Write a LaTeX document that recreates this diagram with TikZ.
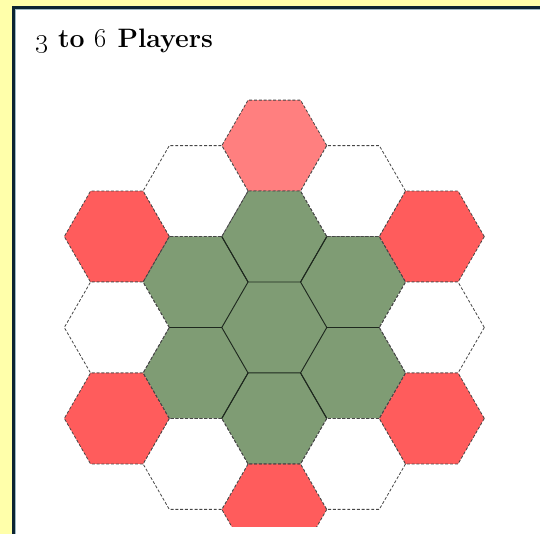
\documentclass[tikz,border=0pt]{standalone}
\usetikzlibrary{calc}
\definecolor{frameyellow}{RGB}{255,255,170}
\definecolor{framedark}{RGB}{12,36,50}
\definecolor{framelight}{RGB}{160,185,195}
\definecolor{hexgreen}{RGB}{127,156,116}
\definecolor{hexred}{RGB}{255,92,92}
\definecolor{hexpink}{RGB}{255,127,127}
\definecolor{hexdash}{RGB}{70,70,70}
\definecolor{hexline}{RGB}{30,40,30}
\newcommand\titlefont{\fontsize{20}{24}\selectfont\bfseries}
\tikzset{
  hexborder/.style={draw=hexdash, line width=0.6pt, dash pattern=on 2.2pt off 1.4pt},
  greenhex/.style={fill=hexgreen},
  redhex/.style={fill=hexred, hexborder},
  pinkhex/.style={fill=hexpink, hexborder},
  whitehex/.style={fill=white, hexborder},
  inneredge/.style={draw=hexline, line width=0.7pt, line join=round},
  titletext/.style={anchor=base west, inner sep=0pt}
}
\begin{document}
\begin{tikzpicture}[x=0.75pt, y=-0.75pt]
\useasboundingbox (0,0) rectangle (540,534);
% frame
\fill[frameyellow] (0,0) rectangle (540,534);
\fill[white] (13.5,7.5) rectangle (545,540);
\draw[framelight, line width=0.75pt] (15.8,540) -- (15.8,9.8) -- (545,9.8);
\draw[framedark, line width=2.25pt] (13.5,540) -- (13.5,7.5) -- (545,7.5);
% title
\node[titletext] (title) at (35,48) {\titlefont \oldstylenums{3} to \oldstylenums{6} Players};
% board
\begin{scope}
\clip (16,10) rectangle (540,527);
\foreach \c/\k/\kind in {
  0/-4/pinkhex, 0/-2/greenhex, 0/0/greenhex, 0/2/greenhex, 0/4/redhex,
  -1/-3/whitehex, -1/-1/greenhex, -1/1/greenhex, -1/3/whitehex,
  1/-3/whitehex, 1/-1/greenhex, 1/1/greenhex, 1/3/whitehex,
  -2/-2/redhex, -2/0/whitehex, -2/2/redhex,
  2/-2/redhex, 2/0/whitehex, 2/2/redhex}
{
  \path[\kind, shift={({274.3+78.75*\c},{327.5+45.47*\k})}]
    (0:52.5) -- (60:52.5) -- (120:52.5) -- (180:52.5) -- (240:52.5) -- (300:52.5) -- cycle;
}
% solid edges inside the green cluster
\foreach \t in {30,90,150,210,270,330}
{
  \draw[inneredge, shift={(274.3,327.5)}, shift={(\t:90.93)}]
    (\t+90:52.5) -- (\t+150:52.5) -- (\t+210:52.5) -- (\t+270:52.5);
}
% dashed outer edges of the green cluster
\foreach \t in {30,90,150,210,270,330}
{
  \draw[hexborder, shift={(274.3,327.5)}, shift={(\t:90.93)}]
    (\t-90:52.5) -- (\t-30:52.5) -- (\t+30:52.5) -- (\t+90:52.5);
}
\end{scope}
\end{tikzpicture}
\end{document}
